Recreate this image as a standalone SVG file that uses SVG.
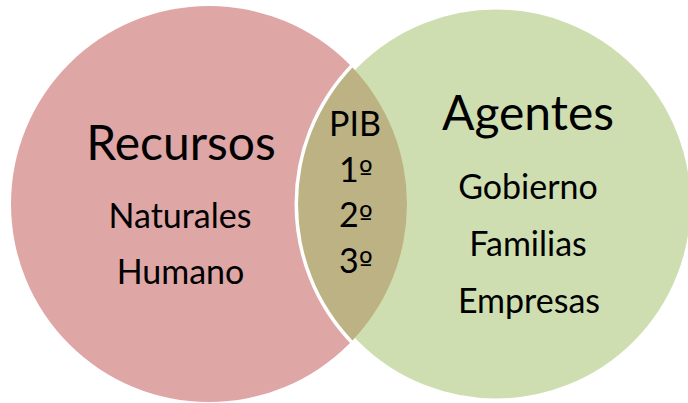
<svg xmlns="http://www.w3.org/2000/svg" width="688" height="403" viewBox="0 0 688 403">
<style>
text{font-family:Lato,"Open Sans","Liberation Sans",sans-serif;fill:#000;text-anchor:middle}
.big{font-size:48px}
.sm{font-size:34px}
.ord{font-family:"DejaVu Sans",sans-serif;font-size:30px}
</style>
<rect width="688" height="403" fill="#fff"/>
<g id="recursos">
<circle cx="209" cy="204" r="198" fill="#dfa6a6"/>
</g>
<g id="agentes">
<circle cx="496" cy="204" r="198" fill="#cfdeb0" stroke="#fff" stroke-width="7"/>
</g>
<g id="pib">
<path d="M352.5,67.6 A198,198 0 0 1 352.5,340.4 A198,198 0 0 1 352.5,67.6 Z" fill="#bdb283"/>
</g>
<g id="labels">
<text class="big" x="181" y="160">Recursos</text>
<text class="sm" x="180" y="228">Naturales</text>
<text class="sm" x="180.5" y="284">Humano</text>
<text class="big" x="528" y="130">Agentes</text>
<text class="sm" x="528" y="199">Gobierno</text>
<text class="sm" x="528" y="256">Familias</text>
<text class="sm" x="529" y="313">Empresas</text>
<text class="sm" x="355" y="136">PIB</text>
<text class="sm" x="356" y="182">1<tspan class="ord">º</tspan></text>
<text class="sm" x="356" y="227">2<tspan class="ord">º</tspan></text>
<text class="sm" x="356" y="273">3<tspan class="ord">º</tspan></text>
</g>
</svg>
